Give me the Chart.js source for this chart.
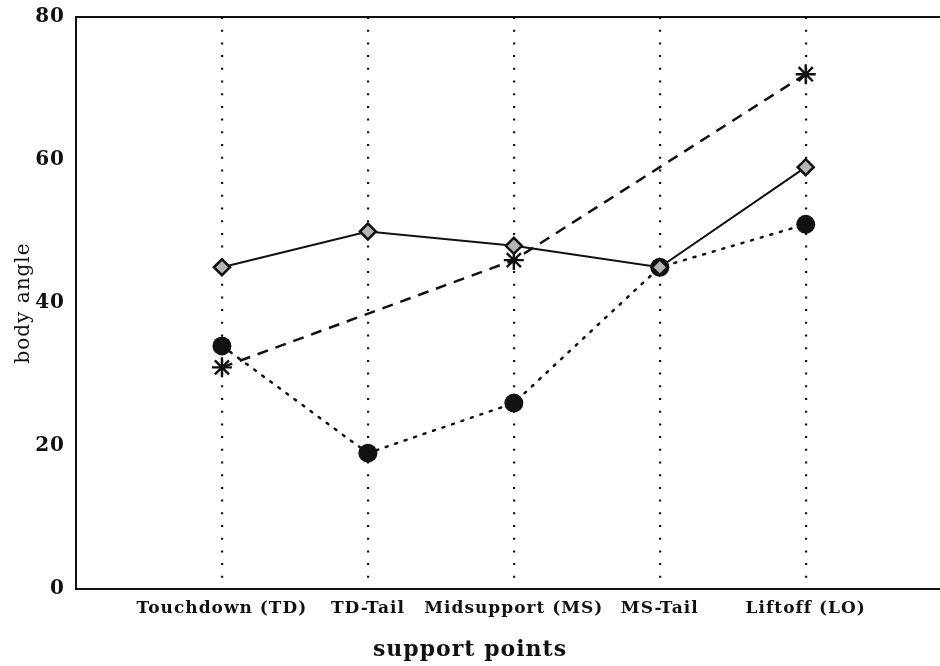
<!DOCTYPE html>
<html>
<head>
<meta charset="utf-8">
<script src="https://cdn.jsdelivr.net/npm/chart.js@4"></script>
<style>
  html, body { margin: 0; padding: 0; background: #fff; }
  #wrap { width: 940px; height: 666px; }
</style>
</head>
<body>
<div id="wrap"><canvas id="c" width="940" height="666"></canvas></div>
<script>
const categories = ['Touchdown (TD)', 'TD-Tail', 'Midsupport (MS)', 'MS-Tail', 'Liftoff (LO)'];
const diamondSeries = [45, 50, 48, 45, 59];
const circleSeries  = [34, 19, 26, 45, 51];
const starSeries    = [31, null, 46, null, 72];
const yTicks = [0, 20, 40, 60, 80];

const toPts = arr => arr.map((v, i) => ({ x: i + 1, y: v }));

const frame = {
  id: 'frame',
  beforeDraw(chart) {
    chart.ctx.letterSpacing = '1px';
  },
  afterDraw(chart) {
    const { ctx, chartArea: a } = chart;
    ctx.save();
    ctx.strokeStyle = '#111';
    ctx.lineWidth = 2;
    ctx.beginPath();
    ctx.moveTo(a.left, a.top);
    ctx.lineTo(a.right, a.top);
    ctx.stroke();
    ctx.restore();
  }
};

const serif = "'DejaVu Serif', 'Liberation Serif', serif";

new Chart(document.getElementById('c'), {
  type: 'line',
  data: {
    datasets: [
      {
        data: toPts(diamondSeries),
        borderColor: '#111', borderWidth: 2,
        pointStyle: 'rectRot', pointRadius: 8, pointHoverRadius: 8,
        pointBackgroundColor: '#b5b5b5', pointBorderColor: '#111', pointBorderWidth: 2.5
      },
      {
        data: toPts(circleSeries),
        borderColor: '#111', borderWidth: 2.5, borderDash: [2, 8], borderCapStyle: 'round',
        pointStyle: 'circle', pointRadius: 9.5, pointHoverRadius: 9.5,
        pointBackgroundColor: '#111', pointBorderColor: '#111', pointBorderWidth: 0
      },
      {
        data: toPts(starSeries),
        spanGaps: true,
        borderColor: '#111', borderWidth: 2.5, borderDash: [11, 8],
        pointStyle: 'star', pointRadius: 10, pointHoverRadius: 10,
        pointBackgroundColor: '#111', pointBorderColor: '#111', pointBorderWidth: 2.4
      }
    ]
  },
  options: {
    responsive: false,
    animation: false,
    events: [],
    layout: { autoPadding: false, padding: { top: 17, right: 0, left: 0, bottom: 0 } },
    plugins: {
      legend: { display: false },
      tooltip: { enabled: false },
      title: {
        display: true, position: 'bottom', text: 'support points', color: '#111',
        font: { family: serif, size: 22, weight: 'bold', lineHeight: 1.2 },
        padding: { top: 0, bottom: 3 }
      }
    },
    scales: {
      x: {
        type: 'linear',
        min: 0, max: 5.92,
        afterBuildTicks: s => { s.ticks = categories.map((c, i) => ({ value: i + 1 })); },
        afterFit: s => { s.height = 666 - 589 - 29.4; s.paddingLeft = 0; s.paddingRight = 0; },
        ticks: {
          callback: v => categories[v - 1],
          color: '#111',
          font: { family: serif, size: 17, weight: 'bold' },
          padding: 9,
          maxRotation: 0, autoSkip: false
        },
        grid: {
          display: true, drawTicks: false, color: '#111', lineWidth: 2.2
        },
        border: { display: true, color: '#111', width: 2, dash: [2, 10.7] },
        title: { display: false }
      },
      y: {
        min: 0, max: 80,
        afterBuildTicks: s => { s.ticks = yTicks.map(v => ({ value: v })); },
        afterFit: s => { s.width = 76; s.paddingTop = 0; s.paddingBottom = 0; },
        ticks: {
          color: '#111',
          font: { family: serif, size: 20, weight: 'bold' },
          padding: 11
        },
        grid: { display: false, drawTicks: false },
        border: { display: true, color: '#111', width: 2 },
        title: {
          display: true, text: 'body angle', color: '#111',
          font: { family: serif, size: 20 },
          padding: { top: 12, bottom: 0 }
        }
      }
    }
  },
  plugins: [frame]
});
</script>
</body>
</html>
